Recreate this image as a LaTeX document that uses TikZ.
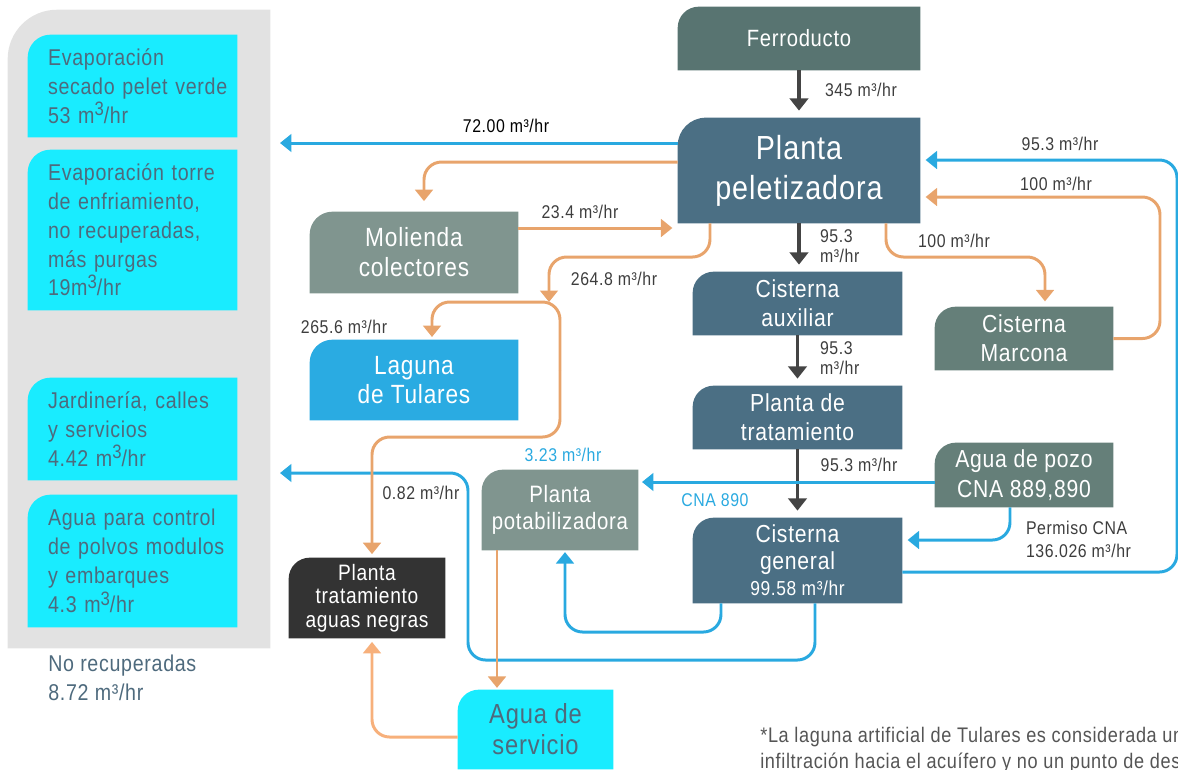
\documentclass[tikz,border=0pt]{standalone}
\usepackage{fontspec}
\setmainfont{Liberation Sans}[FakeStretch=0.86,LetterSpace=3]
\usetikzlibrary{arrows.meta,backgrounds}

\definecolor{panelgray}{HTML}{E2E2E2}
\definecolor{lossfill}{HTML}{19ECFF}
\definecolor{slatetext}{HTML}{4E6A7D}
\definecolor{ferrofill}{HTML}{587471}
\definecolor{slatefill}{HTML}{4B6F84}
\definecolor{greyfill}{HTML}{80958F}
\definecolor{marconafill}{HTML}{657F79}
\definecolor{lagunafill}{HTML}{2AABE2}
\definecolor{negrasfill}{HTML}{333333}
\definecolor{flowblue}{HTML}{29A9E0}
\definecolor{floworange}{HTML}{E8A46C}
\definecolor{flowpeach}{HTML}{F7B07B}
\definecolor{flowdark}{HTML}{444444}
\definecolor{lbltext}{HTML}{3D3D3D}
\definecolor{notegray}{HTML}{555555}

\newcommand\mcub{m\raisebox{0.32em}{\scalebox{0.85}{3}}}

\begin{document}
\begin{tikzpicture}[x=0.02cm,y=-0.02cm,
  flowbox/.style={text=white,align=center,inner sep=0pt},
  lossbox/.style={text=slatetext,align=left,inner xsep=0.1cm,inner ysep=0pt,text width=3.98cm,
    execute at begin node={\leftskip=0.3cm},font=\fontsize{13}{16.4}\selectfont},
  flowlbl/.style={text=lbltext,inner sep=1pt,font=\fontsize{10.5}{11}\selectfont},
  darkflow/.style={draw=flowdark,line width=2pt,-{Triangle[width=10.5pt,length=7pt]},shorten >=4pt},
  blueflow/.style={draw=flowblue,line width=1.7pt,rounded corners=10pt,-{Triangle[width=10pt,length=6.5pt]}},
  orangeflow/.style={blueflow,draw=floworange},
  peachflow/.style={blueflow,draw=flowpeach}]
  \useasboundingbox (0,0) rectangle (1178,769);

  % losses panel
  \node[inner sep=0pt,minimum width=5.24cm,minimum height=12.76cm] (losses) at (139,329) {};
  \node[lossbox,minimum height=2.04cm] (evapsec) at (132.5,86) {Evaporación\\secado pelet verde\\53 \mcub/hr};
  \node[lossbox,minimum height=3.2cm] (evaptorre) at (132.5,230) {Evaporación torre\\de enfriamiento,\\no recuperadas,\\más purgas\\19\mcub/hr};
  \node[lossbox,minimum height=2.04cm] (jardin) at (132.5,429) {Jardinería, calles\\y servicios\\4.42 \mcub/hr};
  \node[lossbox,minimum height=2.64cm] (polvos) at (132.5,561) {Agua para control\\de polvos modulos\\y embarques\\4.3 \mcub/hr};
  \node[text=slatetext,align=left,anchor=north west,inner sep=0pt,font=\fontsize{13}{16.4}\selectfont] (norecup) at (48,655) {No recuperadas\\8.72 m³/hr};

  % plant boxes
  \node[flowbox,minimum width=4.84cm,minimum height=1.26cm,font=\fontsize{13.4}{16}\selectfont] (ferro) at (799,38.5) {Ferroducto};
  \node[flowbox,minimum width=4.84cm,minimum height=2.1cm,font=\fontsize{19}{22.7}\selectfont] (pelet) at (799,170.5) {Planta\\peletizadora};
  \node[flowbox,minimum width=4.16cm,minimum height=1.62cm,font=\fontsize{15}{17}\selectfont] (molienda) at (414,252.5) {Molienda\\colectores};
  \node[flowbox,minimum width=4.16cm,minimum height=1.6cm,font=\fontsize{15}{17}\selectfont] (laguna) at (414,380) {Laguna\\de Tulares};
  \node[flowbox,minimum width=4.18cm,minimum height=1.26cm,font=\fontsize{14}{16.4}\selectfont] (cisaux) at (797.5,303.5) {Cisterna\\auxiliar};
  \node[flowbox,minimum width=3.56cm,minimum height=1.26cm,font=\fontsize{14}{16.4}\selectfont] (marcona) at (1024,338.5) {Cisterna\\Marcona};
  \node[flowbox,minimum width=4.18cm,minimum height=1.26cm,font=\fontsize{14}{16.4}\selectfont] (ptrat) at (797.5,417.5) {Planta de\\tratamiento};
  \node[flowbox,minimum width=3.56cm,minimum height=1.28cm,font=\fontsize{14}{17}\selectfont] (pozo) at (1024,475) {Agua de pozo\\CNA 889,890};
  \node[flowbox,minimum width=4.18cm,minimum height=1.7cm,font=\fontsize{14}{15}\selectfont] (cisgen) at (797.5,560.5) {Cisterna\\general\\{\fontsize{11.5}{16}\selectfont 99.58 m³/hr}};
  \node[flowbox,minimum width=3.12cm,minimum height=1.6cm,font=\fontsize{13.5}{15.5}\selectfont] (potab) at (560,510) {Planta\\potabilizadora};
  \node[flowbox,minimum width=3.12cm,minimum height=1.6cm,font=\fontsize{12.7}{13.4}\selectfont] (negras) at (367,598) {Planta\\tratamiento\\aguas negras};
  \node[flowbox,text=slatetext,minimum width=3.1cm,minimum height=1.58cm,font=\fontsize{15.7}{17.5}\selectfont] (servicio) at (535.5,729.5) {Agua de\\servicio};

  \begin{scope}[on background layer]
    \foreach \nm/\col/\rad in {losses/panelgray/28pt,evapsec/lossfill/13pt,evaptorre/lossfill/13pt,
      jardin/lossfill/13pt,polvos/lossfill/13pt,ferro/ferrofill/12pt,pelet/slatefill/16pt,
      molienda/greyfill/13pt,laguna/lagunafill/13pt,cisaux/slatefill/12pt,marcona/marconafill/12pt,
      ptrat/slatefill/12pt,pozo/marconafill/12pt,cisgen/slatefill/12pt,potab/greyfill/12pt,
      negras/negrasfill/12pt,servicio/lossfill/12pt}
      \fill[\col] (\nm.south west) -- ([yshift=-\rad]\nm.north west) arc[start angle=180,end angle=90,radius=\rad]
        -- (\nm.north east) -- (\nm.south east) -- cycle;
  \end{scope}

  % bends and free ends
  \coordinate (out72) at (280,143);
  \coordinate (molturn) at (424,162);
  \coordinate (in23) at (672,228);
  \coordinate (t264a) at (710,257);
  \coordinate (t264b) at (549,257);
  \coordinate (lagjoin) at (549,302);
  \coordinate (lagtr) at (560,302);
  \coordinate (lagmid) at (560,370);
  \coordinate (lagin) at (432,302);
  \coordinate (lagbr) at (560,437);
  \coordinate (lagbl) at (372,437);
  \coordinate (mar1) at (886,257);
  \coordinate (mar2) at (1045,257);
  \coordinate (mar3) at (1160,338.5);
  \coordinate (mar4) at (1160,197);
  \coordinate (rloopb) at (1177,572);
  \coordinate (rloopt) at (1177,160);
  \coordinate (cnain) at (642,482);
  \coordinate (permiso) at (1010,540);
  \coordinate (gen1) at (721,632);
  \coordinate (gen2) at (565,632);
  \coordinate (gen3) at (815,660);
  \coordinate (gen4) at (468,660);
  \coordinate (gen5) at (468,473);
  \coordinate (jardout) at (280,473);
  \coordinate (svcx) at (497,700);
  \coordinate (svcl) at (372,737);

  % main line
  \draw[darkflow] (ferro) -- (pelet);
  \draw[darkflow] (pelet.south) -- (pelet.south |- cisaux.north);
  \draw[darkflow] (cisaux) -- (ptrat);
  \draw[darkflow] (ptrat) -- (cisgen);

  % fresh water
  \draw[blueflow] (pelet.west |- out72) -- (out72);
  \draw[blueflow,shorten >=3pt] (cisgen.east |- rloopb) -- (rloopb) -- (rloopt) -- (pelet.east |- rloopt);
  \draw[blueflow] (pozo.west |- cnain) -- (cnain);
  \draw[blueflow,shorten >=3pt] (pozo.south -| permiso) -- (permiso) -- (cisgen.east |- permiso);
  \draw[blueflow,shorten >=1pt] (cisgen.south -| gen1) -- (gen1) -- (gen2) -- (potab.south -| gen2);
  \draw[blueflow] (cisgen.south -| gen3) -- (gen3) -- (gen4) -- (gen5) -- (jardout);

  % recovered water
  \draw[orangeflow,shorten >=6pt] (pelet.west |- molturn) -- (molturn) -- (molienda.north -| molturn);
  \draw[orangeflow,shorten >=3pt] (molienda.east |- in23) -- (pelet.west |- in23);
  \draw[orangeflow] (pelet.south -| t264a) -- (t264a) -- (t264b) -- (lagjoin);
  \draw[orangeflow,shorten >=1.5pt] (lagmid) -- (lagtr) -- (lagin) -- (laguna.north -| lagin);
  \draw[orangeflow,shorten >=2pt] (lagmid) -- (lagbr) -- (lagbl) -- (negras.north -| lagbl);
  \draw[orangeflow,shorten >=3pt] (pelet.south -| mar1) -- (mar1) -- (mar2) -- (marcona.north -| mar2);
  \draw[orangeflow,shorten >=3pt] (marcona.east) -- (mar3) -- (mar4) -- (pelet.east |- mar4);
  \draw[orangeflow,shorten >=1pt] (potab.south -| svcx) -- (servicio.north -| svcx);
  \draw[peachflow,shorten >=2pt] (servicio.west |- svcl) -- (svcl) -- (negras.south -| svcl);

  % flow labels
  \node[flowlbl,anchor=west] (l345) at (823,90) {345 m³/hr};
  \node[flowlbl,text=black] (l72) at (506,126) {72.00 m³/hr};
  \node[flowlbl] (l953r) at (1060,144) {95.3 m³/hr};
  \node[flowlbl] (l100r) at (1056,184) {100 m³/hr};
  \node[flowlbl] (l234) at (580,212) {23.4 m³/hr};
  \node[flowlbl,anchor=west,align=left] (l953a) at (818,246) {95.3\\m³/hr};
  \node[flowlbl] (l100m) at (954,241) {100 m³/hr};
  \node[flowlbl] (l2648) at (614,279) {264.8 m³/hr};
  \node[flowlbl] (l2656) at (344,327) {265.6 m³/hr};
  \node[flowlbl,anchor=west,align=left] (l953b) at (818,358) {95.3\\m³/hr};
  \node[flowlbl,text=flowblue] (l323) at (563,455) {3.23 m³/hr};
  \node[flowlbl] (l953c) at (859,465) {95.3 m³/hr};
  \node[flowlbl,text=flowblue] (lcna) at (715,500) {CNA 890};
  \node[flowlbl] (l082) at (421,493) {0.82 m³/hr};
  \node[flowlbl,anchor=west,align=left,font=\fontsize{10.5}{13}\selectfont] (lpermiso) at (1024,539) {Permiso CNA\\136.026 m³/hr};

  % note, cut by the page edge
  \node[anchor=base west,inner sep=0pt,text=notegray,font=\fontsize{12}{14}\selectfont] (note1) at (760,742) {*La laguna artificial de Tulares es considerada un};
  \node[anchor=base west,inner sep=0pt,text=notegray,font=\fontsize{12}{14}\selectfont] (note2) at (760,768) {infiltración hacia el acuífero y no un punto de desc};
\end{tikzpicture}
\end{document}
